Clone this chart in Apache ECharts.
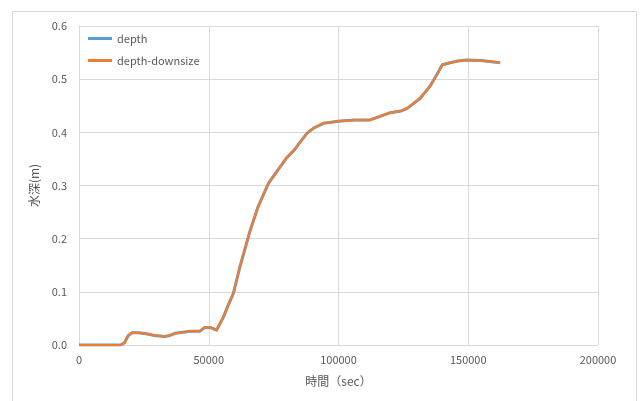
<!DOCTYPE html>
<html>
<head>
<meta charset="utf-8">
<script src="https://cdn.jsdelivr.net/npm/echarts@6/dist/echarts.min.js"></script>
<style>
  html, body { margin: 0; padding: 0; background: #fff; }
  #chart { width: 640px; height: 401px; }
</style>
</head>
<body>
<div id="chart"></div>
<script>
// Elapsed time (sec) and water depth (m)
const timeSec = [0, 10000, 16000, 17500, 19000, 20500, 23000, 26000, 29000, 33000,
  35000, 37000, 40000, 43000, 46500, 48500, 50500, 53000, 55600, 57500,
  59500, 62000, 66000, 69000, 73000, 77500, 80000, 83000, 87800, 90400,
  94200, 100000, 106000, 112000, 116000, 120000, 124000, 126500, 131500, 135300,
  137500, 140000, 143000, 146000, 149500, 155000, 162300];
const depth = [0, 0, 0, 0.004, 0.018, 0.023, 0.023, 0.021, 0.018, 0.016,
  0.018, 0.022, 0.024, 0.026, 0.026, 0.033, 0.033, 0.028, 0.052, 0.075,
  0.097, 0.147, 0.216, 0.26, 0.304, 0.335, 0.352, 0.367, 0.398, 0.408,
  0.417, 0.421, 0.423, 0.423, 0.430, 0.437, 0.440, 0.445, 0.464, 0.487,
  0.505, 0.527, 0.531, 0.534, 0.536, 0.535, 0.531];
const depthDownsize = depth.slice();

const seriesNames = ['depth', 'depth-downsize'];
const xTicks = { min: 0, max: 200000, step: 50000 };
const yTicks = { min: 0, max: 0.6, step: 0.1 };

const pair = (xs, ys) => xs.map((x, i) => [x, ys[i]]);

const FONT = '"Noto Sans CJK JP", "Noto Sans", sans-serif';
const TEXT = '#595959';
const GRID = '#d9d9d9';

const chart = echarts.init(document.getElementById('chart'), null, { renderer: 'canvas' });
chart.setOption({
  animation: false,
  backgroundColor: '#fff',
  textStyle: { fontFamily: FONT },
  graphic: [{
    type: 'rect',
    shape: { x: 12.5, y: 11.5, width: 624, height: 400 },
    style: { fill: 'none', stroke: GRID, lineWidth: 1 },
    silent: true
  }],
  grid: { left: 79, right: 42, top: 26, bottom: 56 },
  legend: {
    orient: 'vertical',
    left: 83, top: 28,
    itemWidth: 24, itemHeight: 3, itemGap: 11,
    icon: 'rect',
    textStyle: { color: TEXT, fontSize: 11, fontFamily: FONT },
    data: seriesNames
  },
  xAxis: {
    type: 'value',
    min: xTicks.min, max: xTicks.max, interval: xTicks.step,
    name: '時間（sec）', nameLocation: 'middle', nameGap: 30,
    nameTextStyle: { color: TEXT, fontSize: 12, fontFamily: FONT },
    axisLine: { show: true, lineStyle: { color: GRID } },
    axisTick: { show: false },
    axisLabel: { color: TEXT, fontSize: 11, margin: 9, formatter: v => String(v) },
    splitLine: { show: true, lineStyle: { color: GRID } }
  },
  yAxis: {
    type: 'value',
    min: yTicks.min, max: yTicks.max, interval: yTicks.step,
    name: '水深(m)', nameLocation: 'middle', nameGap: 39,
    nameTextStyle: { color: TEXT, fontSize: 12, fontFamily: FONT },
    axisLine: { show: true, lineStyle: { color: GRID } },
    axisTick: { show: false },
    axisLabel: { color: TEXT, fontSize: 11, margin: 12, formatter: v => v.toFixed(1) },
    splitLine: { show: true, lineStyle: { color: GRID } }
  },
  series: [
    {
      name: seriesNames[0], type: 'line', data: pair(timeSec, depth),
      showSymbol: false, color: '#5B9BD5',
      lineStyle: { width: 3, color: '#5B9BD5', join: 'round' }
    },
    {
      name: seriesNames[1], type: 'line', data: pair(timeSec, depthDownsize),
      showSymbol: false, color: '#ED7D31',
      lineStyle: { width: 2.25, color: '#ED7D31', join: 'round' }
    }
  ]
});
</script>
</body>
</html>
